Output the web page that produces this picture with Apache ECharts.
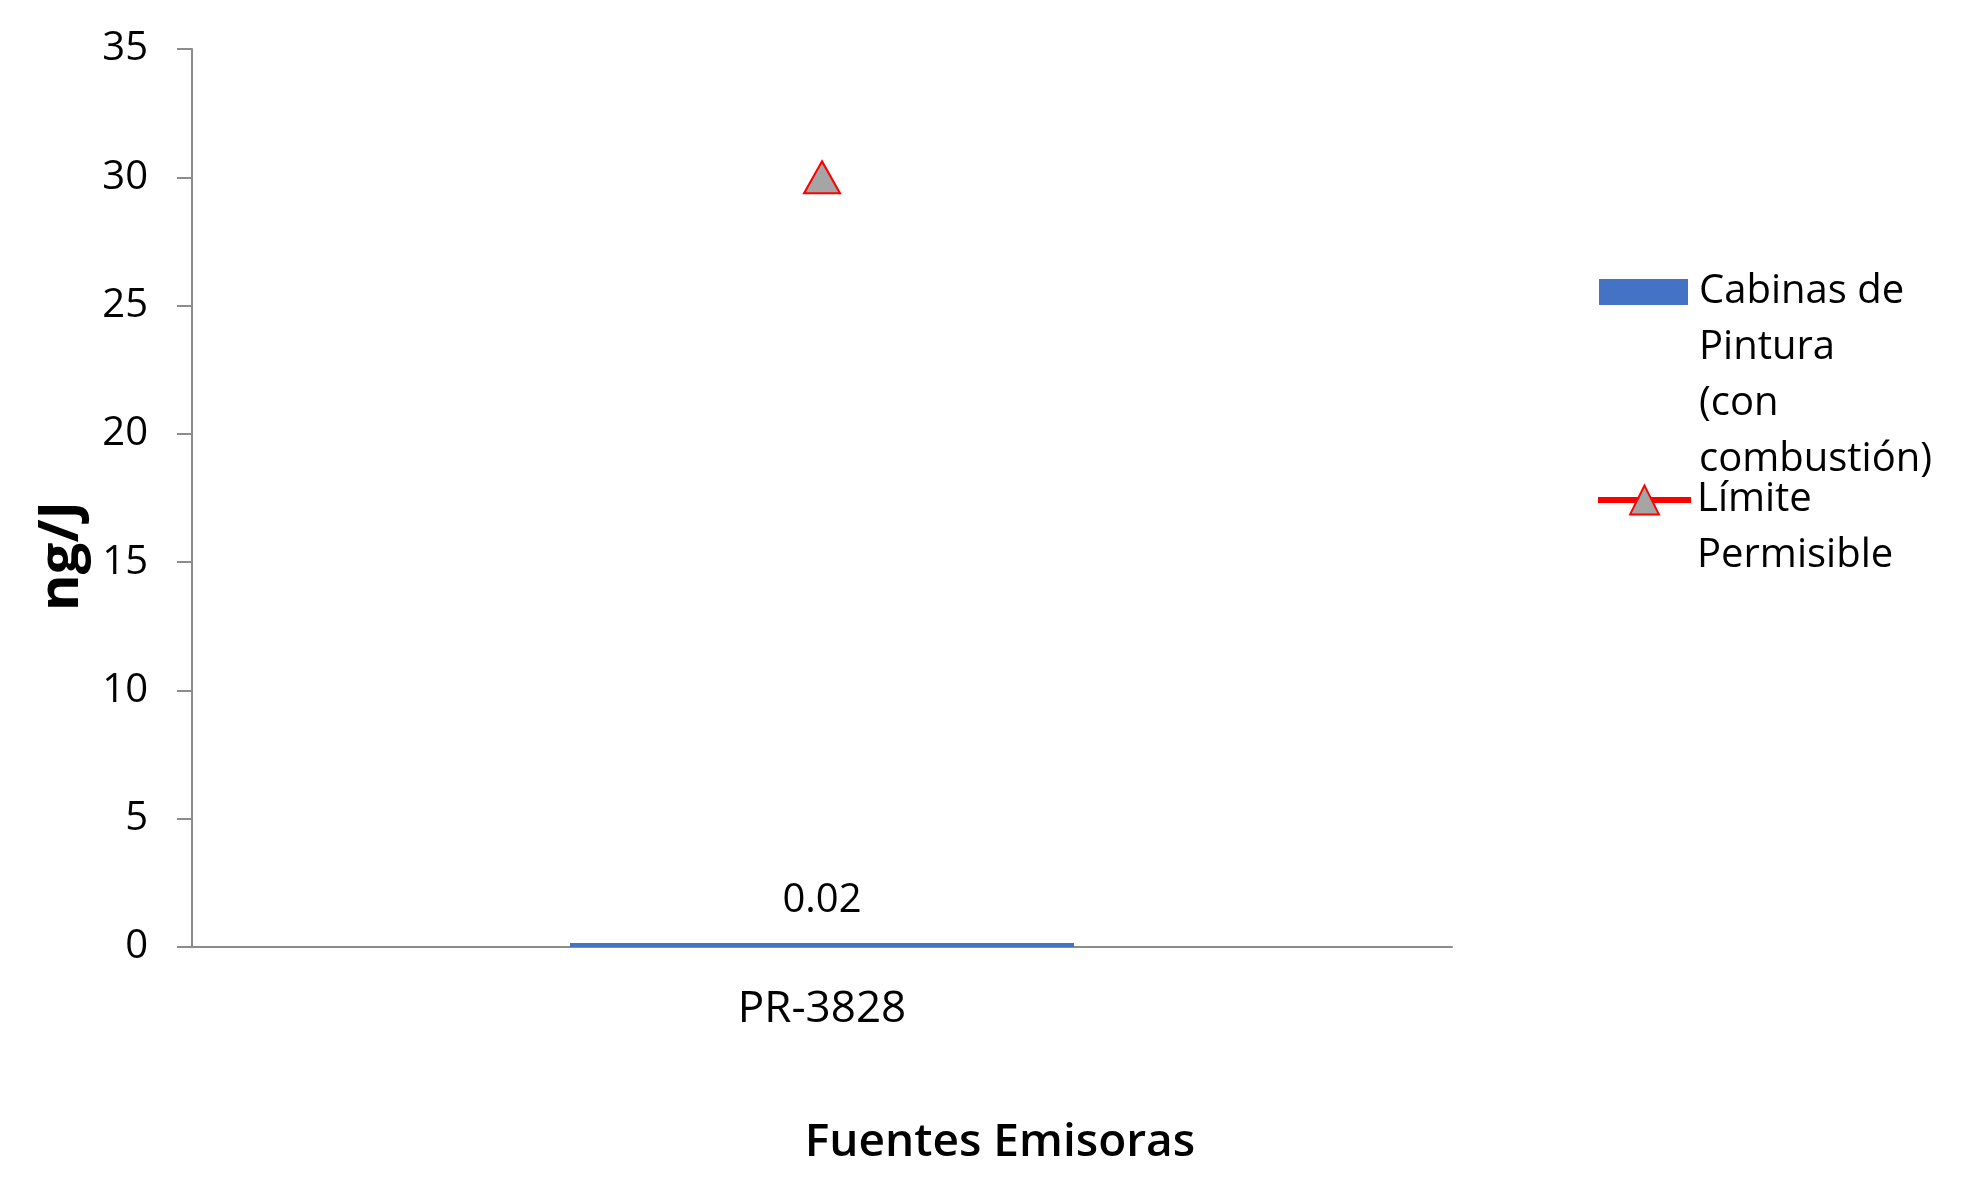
<!DOCTYPE html>
<html>
<head>
<meta charset="utf-8">
<script src="https://cdn.jsdelivr.net/npm/echarts@6/dist/echarts.min.js"></script>
<style>
html,body{margin:0;padding:0;background:#fff;}
#chart{width:1973px;height:1182px;}
</style>
</head>
<body>
<div id="chart"></div>
<script>
const categories = ['PR-3828'];
const cabinasValues = [0.02];
const limiteValues = [30];
const seriesNames = ['Cabinas de Pintura (con combustión)', 'Límite Permisible'];
const yTicks = { min: 0, max: 35, interval: 5 };
const yAxisTitle = 'ng/J';
const xAxisTitle = 'Fuentes Emisoras';

const FONT = '"Open Sans", "Noto Sans", sans-serif';
const chart = echarts.init(document.getElementById('chart'), null, { renderer: 'canvas' });

const legendText = {
  color: '#000', fontFamily: FONT, fontSize: 40, lineHeight: 56,
  backgroundColor: 'rgba(0,0,0,0)', padding: [0, 0, 0, 6]
};

chart.setOption({
  animation: false,
  backgroundColor: '#fff',
  grid: { left: 192, right: 521, top: 49, bottom: 235, containLabel: false },
  xAxis: {
    type: 'category',
    data: categories,
    axisLine: { lineStyle: { color: '#8c8c8c', width: 2 } },
    axisTick: { show: false },
    axisLabel: { color: '#000', fontFamily: FONT, fontSize: 44, margin: 40 }
  },
  yAxis: {
    type: 'value',
    min: yTicks.min, max: yTicks.max, interval: yTicks.interval,
    axisLine: { show: true, lineStyle: { color: '#8c8c8c', width: 2 } },
    axisTick: { show: true, length: 15, lineStyle: { color: '#8c8c8c', width: 2 } },
    splitLine: { show: false },
    axisLabel: { color: '#000', fontFamily: FONT, fontSize: 40, margin: 44 }
  },
  legend: [
    {
      data: [{ name: seriesNames[0], icon: 'rect' }],
      orient: 'vertical', left: 1599, top: 96, padding: 0,
      itemWidth: 89, itemHeight: 26,
      formatter: function () { return '\n\n\nCabinas de\nPintura\n(con\ncombustión)'; },
      textStyle: legendText
    },
    {
      data: [seriesNames[1]],
      orient: 'vertical', left: 1595, top: 416, padding: 0,
      itemWidth: 93, itemHeight: 36,
      lineStyle: { color: '#ff0000', width: 6 },
      formatter: function () { return '\nLímite\nPermisible'; },
      textStyle: Object.assign({}, legendText, { padding: [0, 0, 0, 1] })
    }
  ],
  graphic: [
    {
      type: 'text', x: 62, y: 556, rotation: Math.PI / 2,
      style: { text: yAxisTitle, fontFamily: FONT, fontWeight: 'bold', fontSize: 56,
               fill: '#000', textAlign: 'center', textVerticalAlign: 'middle' }
    },
    {
      type: 'text', x: 1000, y: 1143,
      style: { text: xAxisTitle, fontFamily: FONT, fontWeight: 600, fontSize: 46,
               fill: '#000', textAlign: 'center', textVerticalAlign: 'middle' }
    }
  ],
  series: [
    {
      name: seriesNames[0],
      type: 'bar',
      data: cabinasValues,
      barWidth: '40%',
      barMinHeight: 4,
      itemStyle: { color: '#4472C4' },
      label: { show: true, position: 'top', distance: 22, color: '#000', fontFamily: FONT, fontSize: 40 }
    },
    {
      name: seriesNames[1],
      type: 'line',
      data: limiteValues,
      symbol: 'triangle',
      symbolSize: [36, 32],
      lineStyle: { color: '#ff0000', width: 6 },
      itemStyle: { color: '#a5a5a5', borderColor: '#ff0000', borderWidth: 2 },
      z: 5
    }
  ]
});
</script>
</body>
</html>
